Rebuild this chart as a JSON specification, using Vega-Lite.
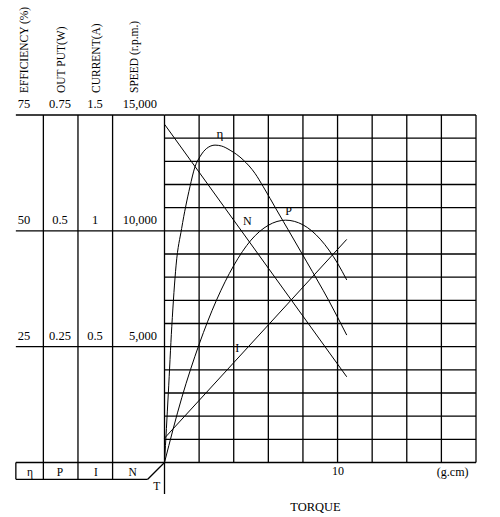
{
  "$schema": "https://vega.github.io/schema/vega-lite/v6.json",
  "width": 500,
  "height": 517,
  "autosize": {"type": "fit", "contains": "padding"},
  "padding": 0,
  "background": "white",
  "data": {"values": [{}]},
  "config": {
    "view": {"stroke": null},
    "rule": {"color": "#000", "strokeWidth": 1.3},
    "line": {"color": "#000", "strokeWidth": 1},
    "text": {"font": "Liberation Serif", "fontSize": 12.5, "color": "#000"}
  },
  "resolve": {"scale": {"y": "independent"}},
  "layer": [
    {
      "layer": [
        {
          "data": {"values": [{"torque": 0}, {"torque": 2}, {"torque": 4}, {"torque": 6}, {"torque": 8}, {"torque": 10}, {"torque": 12}, {"torque": 14}, {"torque": 16}, {"torque": 18}]},
          "mark": "rule",
          "encoding": {
            "x": {
              "field": "torque", "type": "quantitative",
              "scale": {"domain": [-9.506, 19.387], "nice": false, "zero": false},
              "axis": {
                "values": [10], "offset": -55, "domain": false, "ticks": false, "grid": false,
                "labelPadding": 3, "labelFont": "Liberation Serif", "labelFontSize": 12, "labelColor": "#000",
                "labelFlush": false, "labelOverlap": false,
                "title": "TORQUE", "titleFont": "Liberation Serif", "titleFontSize": 12.5, "titleFontWeight": "normal",
                "titleColor": "#000", "titleX": 315, "titleY": 38, "titleBaseline": "top", "titleAlign": "center"
              }
            },
            "y": {"datum": 0, "type": "quantitative", "scale": {"domain": [-2352.5, 19964], "nice": false, "zero": false}, "axis": null},
            "y2": {"datum": 15000}
          }
        },
        {
          "data": {"values": [{"rpm": 0}, {"rpm": 1000}, {"rpm": 2000}, {"rpm": 3000}, {"rpm": 4000}, {"rpm": 5000}, {"rpm": 6000}, {"rpm": 7000}, {"rpm": 8000}, {"rpm": 9000}, {"rpm": 10000}, {"rpm": 11000}, {"rpm": 12000}, {"rpm": 13000}, {"rpm": 14000}, {"rpm": 15000}]},
          "mark": "rule",
          "encoding": {
            "y": {"field": "rpm", "type": "quantitative", "axis": null},
            "x": {"datum": 0, "type": "quantitative"},
            "x2": {"datum": 18}
          }
        },
        {
          "data": {"values": [{"rpm": 0}, {"rpm": 5000}, {"rpm": 10000}, {"rpm": 15000}]},
          "mark": "rule",
          "encoding": {
            "y": {"field": "rpm", "type": "quantitative", "axis": null},
            "x": {"datum": -8.59, "type": "quantitative"},
            "x2": {"datum": 0}
          }
        },
        {
          "data": {"values": [{"torque": -7}, {"torque": -5}, {"torque": -3}]},
          "mark": "rule",
          "encoding": {
            "x": {"field": "torque", "type": "quantitative"},
            "y": {"datum": -725, "type": "quantitative", "axis": null},
            "y2": {"datum": 15000}
          }
        },
        {
          "mark": "rule",
          "encoding": {
            "x": {"datum": 0, "type": "quantitative"},
            "y": {"datum": -1360, "type": "quantitative", "axis": null},
            "y2": {"datum": 0}
          }
        },
        {
          "mark": "rule",
          "encoding": {
            "x": {"datum": -8.59, "type": "quantitative"},
            "x2": {"datum": -0.97},
            "y": {"datum": -725, "type": "quantitative", "axis": null}
          }
        },
        {
          "mark": "rule",
          "encoding": {
            "x": {"datum": -8.59, "type": "quantitative"},
            "y": {"datum": -725, "type": "quantitative", "axis": null},
            "y2": {"datum": 0}
          }
        },
        {
          "mark": "rule",
          "encoding": {
            "x": {"datum": -0.97, "type": "quantitative"},
            "x2": {"datum": 0},
            "y": {"datum": -725, "type": "quantitative", "axis": null},
            "y2": {"datum": 0}
          }
        },
        {
          "data": {"values": [{"torque": 0, "rpm": 14600}, {"torque": 10.53, "rpm": 3700}]},
          "mark": "line",
          "encoding": {
            "x": {"field": "torque", "type": "quantitative"},
            "y": {"field": "rpm", "type": "quantitative", "axis": null}
          }
        },
        {
          "data": {"values": [{"rpm": 15000}, {"rpm": 10000}, {"rpm": 5000}]},
          "mark": {"type": "text", "align": "right", "dy": -10.5},
          "encoding": {
            "x": {"datum": -0.433, "type": "quantitative"},
            "y": {"field": "rpm", "type": "quantitative", "axis": null},
            "text": {"field": "rpm", "type": "quantitative", "format": ","}
          }
        },
        {
          "data": {"values": [{"name": "SPEED (r.p.m.)"}]},
          "mark": {"type": "text", "angle": 270, "align": "left", "fontSize": 11.5},
          "encoding": {
            "x": {"datum": -1.705, "type": "quantitative"},
            "y": {"datum": 15949, "type": "quantitative", "axis": null},
            "text": {"field": "name", "type": "nominal"}
          }
        },
        {
          "data": {"values": [{"sym": "N", "torque": -1.838, "rpm": -440}, {"sym": "T", "torque": -0.451, "rpm": -1045}]},
          "mark": {"type": "text", "fontSize": 11.5},
          "encoding": {
            "x": {"field": "torque", "type": "quantitative"},
            "y": {"field": "rpm", "type": "quantitative", "axis": null},
            "text": {"field": "sym", "type": "nominal"}
          }
        },
        {
          "data": {"values": [{"label": "N", "torque": 4.785, "rpm": 10424}, {"label": "(g.cm)", "torque": 16.65, "rpm": -397}]},
          "mark": {"type": "text", "fontSize": 12},
          "encoding": {
            "x": {"field": "torque", "type": "quantitative"},
            "y": {"field": "rpm", "type": "quantitative", "axis": null},
            "text": {"field": "label", "type": "nominal"}
          }
        }
      ]
    },
    {
      "layer": [
        {
          "data": {"values": [
            {"torque": 0, "eff": 0}, {"torque": 0.22, "eff": 14.9}, {"torque": 0.42, "eff": 29.3},
            {"torque": 0.67, "eff": 42.6}, {"torque": 0.99, "eff": 50.5}, {"torque": 1.47, "eff": 59.5},
            {"torque": 1.76, "eff": 63.8}, {"torque": 2.05, "eff": 66}, {"torque": 2.44, "eff": 67.8},
            {"torque": 2.92, "eff": 68.5}, {"torque": 3.3, "eff": 68.3}, {"torque": 3.79, "eff": 67.4},
            {"torque": 4.55, "eff": 65.3}, {"torque": 5.23, "eff": 62.4}, {"torque": 5.71, "eff": 59.5},
            {"torque": 6.1, "eff": 57}, {"torque": 6.48, "eff": 54.5}, {"torque": 6.87, "eff": 52},
            {"torque": 7.15, "eff": 50.2}, {"torque": 8.22, "eff": 43.3}, {"torque": 9.5, "eff": 34.9},
            {"torque": 10.53, "eff": 27.5}
          ]},
          "mark": {"type": "line", "interpolate": "monotone"},
          "encoding": {
            "x": {"field": "torque", "type": "quantitative"},
            "y": {"field": "eff", "type": "quantitative", "scale": {"domain": [-11.7625, 99.82], "nice": false, "zero": false}, "axis": null}
          }
        },
        {
          "data": {"values": [{"eff": 75}, {"eff": 50}, {"eff": 25}]},
          "mark": {"type": "text", "dy": -10.5},
          "encoding": {
            "x": {"datum": -8.119, "type": "quantitative"},
            "y": {"field": "eff", "type": "quantitative", "axis": null},
            "text": {"field": "eff", "type": "quantitative", "format": "~g"}
          }
        },
        {
          "data": {"values": [{"name": "EFFICIENCY (%)"}]},
          "mark": {"type": "text", "angle": 270, "align": "left", "fontSize": 11.5},
          "encoding": {
            "x": {"datum": -8.06, "type": "quantitative"},
            "y": {"datum": 79.75, "type": "quantitative", "axis": null},
            "text": {"field": "name", "type": "nominal"}
          }
        },
        {
          "data": {"values": [{"sym": "η"}]},
          "mark": {"type": "text", "fontSize": 11.5},
          "encoding": {
            "x": {"datum": -7.773, "type": "quantitative"},
            "y": {"datum": -2.2, "type": "quantitative", "axis": null},
            "text": {"field": "sym", "type": "nominal"}
          }
        },
        {
          "data": {"values": [{"label": "η", "torque": 3.207, "eff": 70.9}]},
          "mark": {"type": "text", "fontSize": 13},
          "encoding": {
            "x": {"field": "torque", "type": "quantitative"},
            "y": {"field": "eff", "type": "quantitative", "axis": null},
            "text": {"field": "label", "type": "nominal"}
          }
        }
      ]
    },
    {
      "layer": [
        {
          "data": {"values": [
            {"torque": 0, "watt": 0}, {"torque": 1, "watt": 0.14}, {"torque": 2, "watt": 0.255},
            {"torque": 3, "watt": 0.35}, {"torque": 4, "watt": 0.425}, {"torque": 5, "watt": 0.48},
            {"torque": 6, "watt": 0.512}, {"torque": 7, "watt": 0.523}, {"torque": 8, "watt": 0.513},
            {"torque": 9, "watt": 0.482}, {"torque": 10, "watt": 0.43}, {"torque": 10.53, "watt": 0.394}
          ]},
          "mark": {"type": "line", "interpolate": "monotone"},
          "encoding": {
            "x": {"field": "torque", "type": "quantitative"},
            "y": {"field": "watt", "type": "quantitative", "scale": {"domain": [-0.117625, 0.9982], "nice": false, "zero": false}, "axis": null}
          }
        },
        {
          "data": {"values": [{"watt": 0.75}, {"watt": 0.5}, {"watt": 0.25}]},
          "mark": {"type": "text", "dy": -10.5},
          "encoding": {
            "x": {"datum": -6.039, "type": "quantitative"},
            "y": {"field": "watt", "type": "quantitative", "axis": null},
            "text": {"field": "watt", "type": "quantitative", "format": "~g"}
          }
        },
        {
          "data": {"values": [{"name": "OUT PUT(W)"}]},
          "mark": {"type": "text", "angle": 270, "align": "left", "fontSize": 11.5},
          "encoding": {
            "x": {"datum": -5.94, "type": "quantitative"},
            "y": {"datum": 0.7975, "type": "quantitative", "axis": null},
            "text": {"field": "name", "type": "nominal"}
          }
        },
        {
          "data": {"values": [{"sym": "P"}]},
          "mark": {"type": "text", "fontSize": 11.5},
          "encoding": {
            "x": {"datum": -6.039, "type": "quantitative"},
            "y": {"datum": -0.022, "type": "quantitative", "axis": null},
            "text": {"field": "sym", "type": "nominal"}
          }
        },
        {
          "data": {"values": [{"label": "P", "torque": 7.177, "watt": 0.5434}]},
          "mark": {"type": "text", "fontSize": 12},
          "encoding": {
            "x": {"field": "torque", "type": "quantitative"},
            "y": {"field": "watt", "type": "quantitative", "axis": null},
            "text": {"field": "label", "type": "nominal"}
          }
        }
      ]
    },
    {
      "layer": [
        {
          "data": {"values": [{"torque": 0, "amp": 0.105}, {"torque": 10.53, "amp": 0.963}]},
          "mark": "line",
          "encoding": {
            "x": {"field": "torque", "type": "quantitative"},
            "y": {"field": "amp", "type": "quantitative", "scale": {"domain": [-0.23525, 1.9964], "nice": false, "zero": false}, "axis": null}
          }
        },
        {
          "data": {"values": [{"amp": 1.5}, {"amp": 1}, {"amp": 0.5}]},
          "mark": {"type": "text", "dy": -10.5},
          "encoding": {
            "x": {"datum": -4.016, "type": "quantitative"},
            "y": {"field": "amp", "type": "quantitative", "axis": null},
            "text": {"field": "amp", "type": "quantitative", "format": "~g"}
          }
        },
        {
          "data": {"values": [{"name": "CURRENT(A)"}]},
          "mark": {"type": "text", "angle": 270, "align": "left", "fontSize": 11.5},
          "encoding": {
            "x": {"datum": -3.918, "type": "quantitative"},
            "y": {"datum": 1.5949, "type": "quantitative", "axis": null},
            "text": {"field": "name", "type": "nominal"}
          }
        },
        {
          "data": {"values": [{"sym": "I"}]},
          "mark": {"type": "text", "fontSize": 11.5},
          "encoding": {
            "x": {"datum": -3.958, "type": "quantitative"},
            "y": {"datum": -0.044, "type": "quantitative", "axis": null},
            "text": {"field": "sym", "type": "nominal"}
          }
        },
        {
          "data": {"values": [{"label": "I", "torque": 4.207, "amp": 0.4929}]},
          "mark": {"type": "text", "fontSize": 12},
          "encoding": {
            "x": {"field": "torque", "type": "quantitative"},
            "y": {"field": "amp", "type": "quantitative", "axis": null},
            "text": {"field": "label", "type": "nominal"}
          }
        }
      ]
    }
  ]
}
